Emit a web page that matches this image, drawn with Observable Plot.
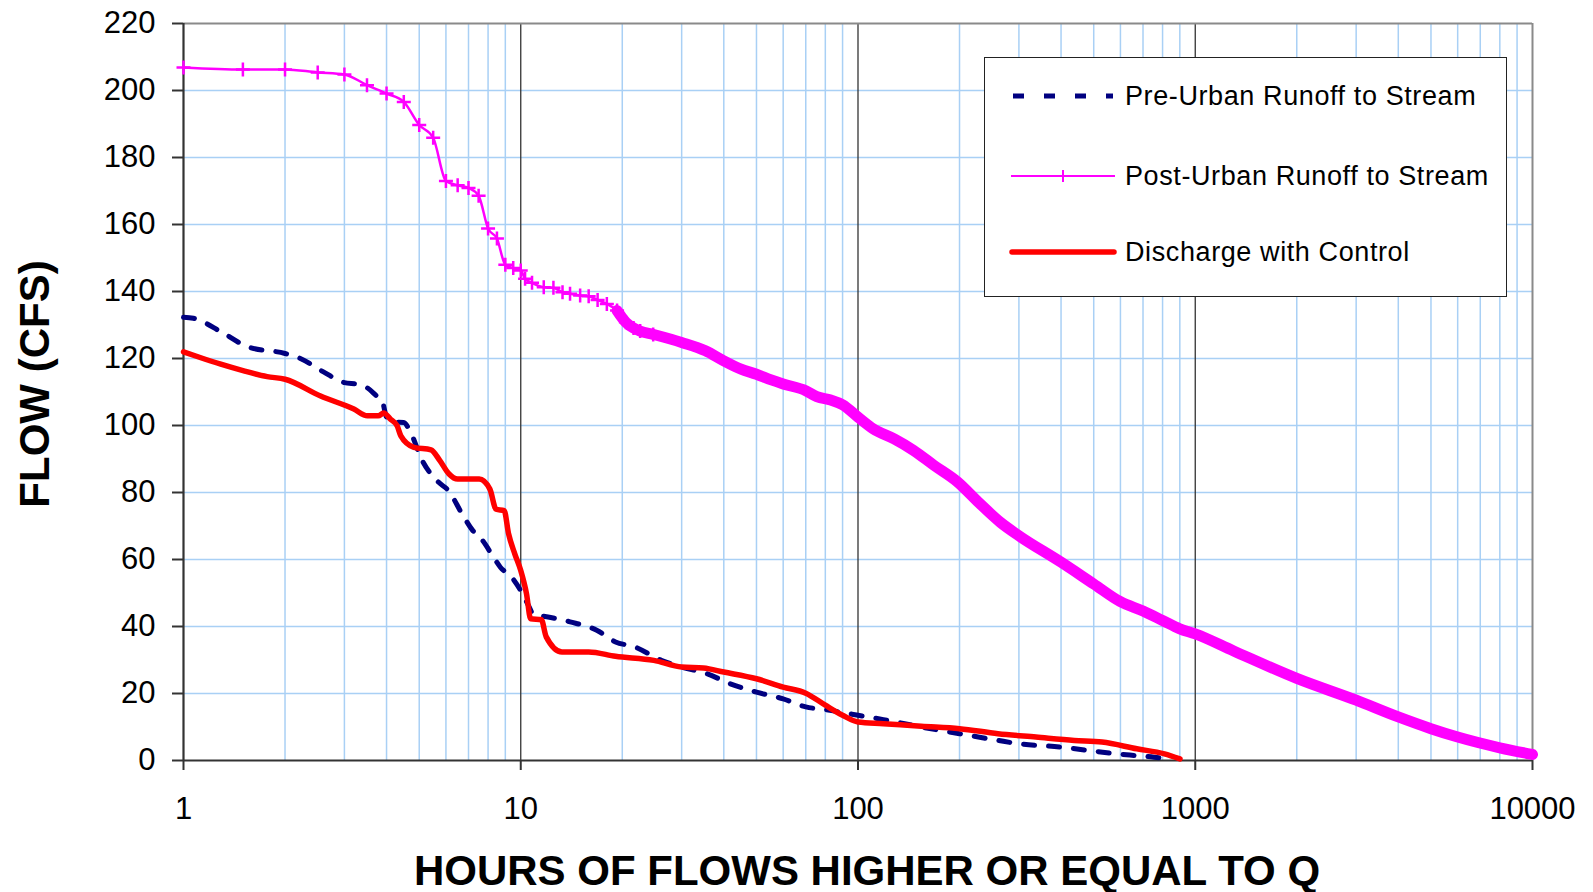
<!DOCTYPE html>
<html>
<head>
<meta charset="utf-8">
<script src="https://cdn.jsdelivr.net/npm/d3@7"></script>
<script src="https://cdn.jsdelivr.net/npm/@observablehq/plot@0.6"></script>
<style>
  html, body { margin: 0; padding: 0; background: #fff; }
  #wrap { position: relative; width: 1593px; height: 892px; font-family: "Liberation Sans", Arial, sans-serif; }
  #legend { position: absolute; left: 984px; top: 57px; width: 523px; height: 240px; border: 1.5px solid #222; background: #fff; box-sizing: border-box; }
  .row { position: absolute; left: 0; height: 40px; display: flex; align-items: center; }
  .row svg { display: block; margin-left: 24px; }
  .row span { margin-left: 8px; font-size: 27px; letter-spacing: 0.6px; color: #000; white-space: nowrap; }
</style>
</head>
<body>
<div id="wrap">
  <div id="chart"></div>
  <div id="legend"></div>
</div>
<script>
// ---------- data ----------
const seriesNames = ["Pre-Urban Runoff to Stream", "Post-Urban Runoff to Stream", "Discharge with Control"];

const preHours = [1, 1.07, 1.3, 1.55, 2, 2.2, 2.6, 3, 3.3, 3.5, 3.76, 3.88, 4.0, 4.2, 4.5, 4.7, 5.1, 5.7, 6.1, 6.7, 7.2, 7.7, 8.3, 8.7, 9.4, 10, 10.6, 10.9, 11.5, 14, 16.8, 19.1, 21.8, 26.1, 30, 35.7, 41.8, 50, 60, 70, 80, 91.5, 100, 119, 154, 200, 260, 300, 400, 500, 625, 755, 850];
const preFlow  = [132.3, 132, 127.8, 123.5, 121.5, 120.2, 116, 112.8, 112.3, 111.3, 108.6, 107.5, 102.5, 101, 100.9, 98.2, 89.6, 83.1, 80.6, 73.6, 68.7, 65.7, 60.7, 57.7, 54.7, 50.7, 45.8, 43.6, 43.2, 41.4, 38.9, 35.4, 33.9, 29.9, 27.9, 25.9, 22.9, 20.4, 18.4, 16, 15.2, 14.2, 13.5, 12.2, 10, 8, 6, 5, 4, 2.8, 1.7, 1, 0.3];

const postHours = [1, 1.5, 2, 2.5, 3, 3.5, 4, 4.5, 5, 5.5, 6, 6.5, 7, 7.5, 8, 8.5, 9, 9.5, 10, 10.3, 10.8, 11.7, 12.5, 13.3, 14, 15, 15.9, 16.9, 18, 19.3, 20.5, 21.6, 22.6, 24.7, 30, 35.3, 40, 45, 50, 55.3, 60, 70, 75.5, 83, 90, 100, 111, 128, 146, 168, 197, 228, 265, 300, 400, 500, 600, 700, 800, 900, 1000, 1300, 2000, 3000, 4000, 5000, 6000, 8000, 10000];
const postFlow  = [206.9, 206.3, 206.3, 205.4, 204.8, 201.6, 199.1, 196.6, 189.7, 185.9, 173.0, 171.7, 170.9, 168.6, 158.8, 155.8, 148.0, 147.0, 146.3, 143.8, 142.6, 141.3, 141.1, 139.8, 139.3, 138.8, 138.6, 137.5, 136.3, 134.3, 130.8, 129.1, 128.2, 127.2, 124.8, 122.3, 119.3, 116.8, 115.3, 113.6, 112.4, 110.4, 108.6, 107.6, 106.2, 102.5, 99, 96, 92.6, 88.1, 83.2, 77, 71, 67.1, 59.2, 52.7, 47.4, 44.6, 41.8, 39.3, 37.8, 32.7, 24.5, 18, 13, 9.5, 7, 3.8, 1.8];

const ctrlHours = [1, 1.12, 1.29, 1.51, 1.77, 2, 2.55, 3.2, 3.51, 3.78, 3.92, 4.11, 4.3, 4.41, 4.82, 5.42, 5.75, 6.12, 6.5, 7.53, 8.1, 8.45, 8.93, 9.2, 9.6, 10, 10.4, 10.7, 11.5, 11.9, 13.25, 15.9, 19.1, 24.8, 30, 34.8, 40, 50, 60, 70, 80, 90, 100, 119, 154, 200, 260, 337, 438, 529, 671, 810, 901];
const ctrlFlow  = [122, 120.3, 118.3, 116.3, 114.6, 113.8, 108.8, 104.9, 102.9, 102.9, 103.7, 101.9, 99.9, 96.9, 93.5, 92.7, 89.6, 85.6, 84, 84, 81, 75, 74.6, 67.7, 61.7, 56.7, 49.8, 42.3, 42.1, 36.9, 32.4, 32.4, 31.1, 29.9, 27.9, 27.6, 26.4, 24.4, 21.9, 20.1, 16.5, 13.5, 11.5, 11, 10.2, 9.5, 8, 7, 6, 5.5, 3.5, 2, 0.5];

const yTicks = [0, 20, 40, 60, 80, 100, 120, 140, 160, 180, 200, 220];
const xTicks = [1, 10, 100, 1000, 10000];

// ---------- build tables ----------
const pre  = preHours.map((h, i) => ({h, q: preFlow[i]}));
const post = postHours.map((h, i) => ({h, q: postFlow[i]}));
const ctrl = ctrlHours.map((h, i) => ({h, q: ctrlFlow[i]}));
const postThin = post.filter(d => d.h <= 20.5);
const postBand = post.filter(d => d.h >= 19.3);
const postMarks = post.filter(d => d.h <= 25);

const minorX = [];
for (const dec of [1, 10, 100, 1000]) for (let k = 2; k <= 9; k++) minorX.push(dec * k);
const majorX = [10, 100, 1000];
const gridY = yTicks.filter(v => v > 0 && v < 220);

const C_PRE = "#000080", C_POST = "#ff00ff", C_CTRL = "#ff0000";
const GRID = "#a9d0f5", AXIS = "#333333", BORDER = "#8a8a8a";

const plusSymbol = {
  draw(context, size) {
    const r = Math.sqrt(size / Math.PI);
    context.moveTo(-r, 0); context.lineTo(r, 0);
    context.moveTo(0, -r); context.lineTo(0, r);
  }
};

const chart = Plot.plot({
  width: 1593,
  height: 892,
  marginLeft: 183,
  marginRight: 61,
  marginTop: 23,
  marginBottom: 132,
  x: {type: "log", domain: [1, 10000]},
  y: {domain: [0, 220]},
  style: {fontFamily: "'Liberation Sans', Arial, sans-serif", fontSize: "31px", color: "#000", background: "#fff", overflow: "visible"},
  marks: [
    Plot.ruleY(gridY, {stroke: GRID, strokeWidth: 1.5}),
    Plot.ruleX(minorX, {stroke: GRID, strokeWidth: 1.5}),
    Plot.ruleX(majorX, {stroke: AXIS, strokeWidth: 1.3}),
    Plot.ruleY([220], {stroke: BORDER, strokeWidth: 2}),
    Plot.ruleX([10000], {stroke: BORDER, strokeWidth: 2}),
    Plot.axisY({ticks: yTicks, tickSize: 11, tickPadding: 17, label: null, tickFormat: d => String(d), fontSize: 31, stroke: AXIS, strokeWidth: 2}),
    Plot.axisX({ticks: xTicks, tickSize: 10, tickPadding: 26, label: null, tickFormat: d => String(d), fontSize: 31, stroke: AXIS, strokeWidth: 2}),
    Plot.ruleX([1], {stroke: AXIS, strokeWidth: 2.2}),
    Plot.ruleY([0], {stroke: AXIS, strokeWidth: 2.2}),
    // Pre-urban (dashed navy)
    Plot.line(pre, {x: "h", y: "q", stroke: C_PRE, strokeWidth: 5, strokeDasharray: "11,14", curve: "monotone-x"}),
    // Post-urban (magenta, + markers; dense part drawn as a band)
    Plot.line(postThin, {x: "h", y: "q", stroke: C_POST, strokeWidth: 2.5, curve: "monotone-x"}),
    Plot.line(postBand, {x: "h", y: "q", stroke: C_POST, strokeWidth: 11, curve: "monotone-x", strokeLinecap: "round"}),
    Plot.dot(postMarks, {x: "h", y: "q", symbol: plusSymbol, r: 7, stroke: C_POST, strokeWidth: 2.5, fill: "none"}),
    // Discharge with control (red)
    Plot.line(ctrl, {x: "h", y: "q", stroke: C_CTRL, strokeWidth: 5.5, curve: "monotone-x", strokeLinejoin: "round", strokeLinecap: "round"}),
    // axis titles
    Plot.text(["FLOW (CFS)"], {frameAnchor: "left", textAnchor: "middle", lineAnchor: "middle", rotate: -90, dx: -148, dy: -8, fontSize: 42, fontWeight: "bold", fill: "#000"}),
    Plot.text(["HOURS OF FLOWS HIGHER OR EQUAL TO Q"], {frameAnchor: "bottom", textAnchor: "middle", lineAnchor: "middle", dx: 9, dy: 111, fontSize: 42, fontWeight: "bold", fill: "#000"})
  ]
});
document.getElementById("chart").appendChild(chart);

// ---------- legend ----------
const legend = document.getElementById("legend");
const rowsTop = [18, 98, 174];
const samples = [
  `<svg width="108" height="20"><line x1="4" y1="10" x2="104" y2="10" stroke="${C_PRE}" stroke-width="5" stroke-dasharray="11,20"/></svg>`,
  `<svg width="108" height="20"><line x1="2" y1="10" x2="106" y2="10" stroke="${C_POST}" stroke-width="2"/><line x1="54" y1="4" x2="54" y2="16" stroke="${C_POST}" stroke-width="2"/></svg>`,
  `<svg width="108" height="20"><line x1="3" y1="10" x2="105" y2="10" stroke="${C_CTRL}" stroke-width="5.5" stroke-linecap="round"/></svg>`
];
seriesNames.forEach((name, i) => {
  const row = document.createElement("div");
  row.className = "row";
  row.style.top = rowsTop[i] + "px";
  row.innerHTML = samples[i] + `<span>${name}</span>`;
  legend.appendChild(row);
});
</script>
</body>
</html>
